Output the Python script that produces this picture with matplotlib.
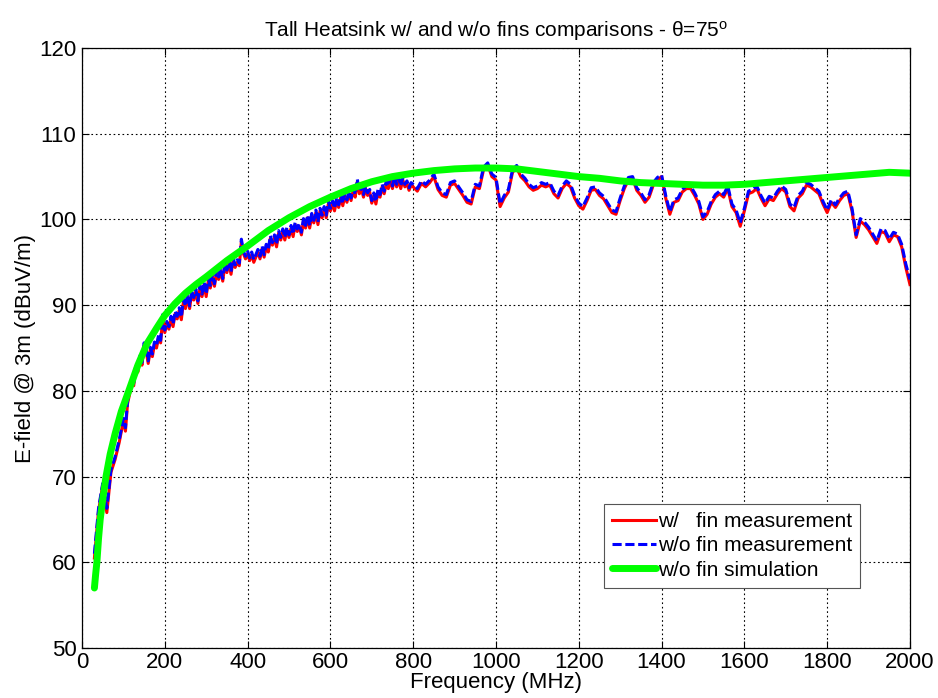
import numpy as np
import matplotlib
matplotlib.use("Agg")
import matplotlib.pyplot as plt

plt.rcParams['font.family'] = ['Liberation Sans', 'DejaVu Sans']
plt.rcParams['mathtext.fontset'] = 'custom'
plt.rcParams['mathtext.rm'] = 'Liberation Sans'
plt.rcParams['mathtext.it'] = 'Liberation Sans:italic'

# Measurement frequencies (MHz): sampling grid
meas_freq = np.concatenate([np.arange(30, 100, 10),
                            np.arange(100, 800, 5),
                            np.arange(800, 2001, 10)])

w_fin_meas = [
    # 30 - 90 MHz
    60.5, 66.0, 69.0, 65.8, 70.5, 72.0, 74.0,
    # 100 - 795 MHz (5 MHz steps)
    76.5, 75.3, 78.5, 79.6, 81.0, 80.6, 82.8, 82.2, 83.8, 83.0,
    85.3, 84.6, 83.2, 84.8, 84.0, 85.4, 85.0, 86.2, 85.6, 88.6,
    86.8, 87.8, 87.2, 88.4, 87.5, 89.0, 88.4, 89.4, 88.3, 90.4,
    89.6, 91.0, 89.6, 91.4, 90.6, 91.6, 90.2, 92.0, 91.0, 92.4,
    91.0, 92.8, 92.0, 93.4, 92.2, 93.8, 93.0, 94.0, 92.8, 94.6,
    93.8, 94.9, 93.6, 95.2, 94.4, 95.0, 94.6, 97.4, 96.0, 95.4,
    96.0, 95.2, 95.9, 95.0, 95.6, 96.2, 95.4, 96.6, 95.6, 96.8,
    96.2, 97.8, 97.0, 97.9, 96.8, 98.4, 97.6, 98.6, 97.6, 98.8,
    97.9, 99.0, 98.0, 99.4, 98.6, 99.2, 98.2, 99.8, 99.0, 100.2,
    99.0, 100.4, 99.6, 100.8, 99.4, 101.0, 100.2, 101.2, 100.2, 101.8,
    101.0, 101.9, 101.0, 102.2, 101.4, 102.6, 101.6, 102.8, 102.0, 103.0,
    102.2, 103.4, 102.6, 104.4, 103.0, 103.6, 102.6, 103.6, 102.8, 103.2,
    101.9, 102.8, 101.8, 103.2, 102.6, 103.8, 103.0, 104.2, 103.6, 104.6,
    103.6, 104.8, 103.8, 104.6, 103.6, 104.6, 103.8, 104.2, 103.4, 104.0,
    # 800 - 2000 MHz (10 MHz steps)
    103.8, 103.3, 104.2,
    103.8, 104.3, 105.0, 103.5, 102.8, 102.6, 104.0, 104.2, 103.5, 102.8,
    102.0, 101.8, 103.8, 103.6, 105.8, 106.4, 105.0, 104.6, 101.5, 102.5,
    103.2, 105.5, 106.0, 105.0, 104.5, 103.8, 103.4, 103.6, 104.0, 103.8,
    104.0, 103.0, 102.5, 103.6, 104.2, 103.8, 102.5, 101.6, 101.2, 102.2,
    103.4, 103.5, 102.8, 102.4, 101.6, 100.8, 100.6, 102.2, 103.6, 104.6,
    104.8, 103.4, 102.8, 102.0, 102.6, 104.0, 104.6, 105.0, 102.5, 100.6,
    102.0, 102.2, 103.2, 103.6, 103.6, 102.8, 101.8, 100.0, 100.6, 101.8,
    102.6, 103.0, 102.6, 103.6, 101.5, 100.8, 99.2, 101.0, 103.0, 103.2,
    103.6, 102.5, 101.6, 102.4, 102.2, 103.0, 103.6, 103.2, 101.5, 101.0,
    102.5, 103.0, 104.0, 103.8, 103.4, 103.0, 101.8, 100.8, 102.0, 101.4,
    102.2, 102.8, 103.0, 101.0, 97.9, 99.8, 99.4, 98.8, 98.0, 97.2,
    98.6, 98.4, 97.4, 98.2, 98.0, 96.8, 94.4, 92.4,
]

wo_fin_meas = [
    # 30 - 90 MHz
    61.0, 66.3, 69.2, 66.3, 70.8, 72.3, 74.3,
    # 100 - 795 MHz (5 MHz steps)
    76.8, 75.7, 78.8, 79.9, 81.3, 80.9, 83.1, 82.5, 84.1, 83.3,
    85.6, 84.9, 83.5, 85.1, 84.3, 85.7, 85.3, 86.5, 85.9, 88.9,
    87.1, 88.1, 87.5, 88.7, 87.8, 89.3, 88.7, 89.7, 88.6, 90.7,
    89.9, 91.3, 89.9, 91.7, 90.9, 91.9, 90.5, 92.3, 91.3, 92.7,
    91.3, 93.1, 92.3, 93.7, 92.5, 94.1, 93.3, 94.3, 93.1, 94.9,
    94.1, 95.2, 93.9, 95.5, 94.7, 95.3, 94.9, 97.7, 96.3, 95.7,
    96.3, 95.5, 96.2, 95.3, 95.9, 96.5, 95.7, 96.9, 95.9, 97.1,
    96.5, 98.1, 97.3, 98.2, 97.1, 98.7, 97.9, 98.9, 97.9, 99.1,
    98.2, 99.3, 98.3, 99.7, 98.9, 99.5, 98.5, 100.1, 99.3, 100.5,
    99.3, 100.7, 99.9, 101.1, 99.7, 101.3, 100.5, 101.5, 100.5, 102.1,
    101.3, 102.2, 101.3, 102.5, 101.7, 102.9, 101.9, 103.1, 102.3, 103.3,
    102.5, 103.7, 102.9, 104.7, 103.3, 103.9, 102.9, 103.9, 103.1, 103.5,
    102.2, 103.1, 102.1, 103.5, 102.9, 104.1, 103.3, 104.5, 103.9, 104.9,
    103.9, 105.1, 104.1, 104.9, 103.9, 104.9, 104.1, 104.5, 103.7, 104.3,
    # 800 - 2000 MHz (10 MHz steps)
    104.1, 103.6, 104.5,
    104.1, 104.6, 105.3, 103.8, 103.1, 102.9, 104.3, 104.5, 103.8, 103.1,
    102.3, 102.1, 104.1, 103.9, 106.1, 106.6, 105.3, 104.9, 101.8, 102.8,
    103.5, 105.8, 106.3, 105.3, 104.8, 104.1, 103.7, 103.9, 104.3, 104.1,
    104.3, 103.3, 102.8, 103.9, 104.5, 104.1, 102.8, 101.9, 101.5, 102.5,
    103.7, 103.8, 103.1, 102.7, 101.9, 101.1, 100.9, 102.5, 103.9, 104.9,
    105.0, 103.7, 103.1, 102.3, 102.9, 104.3, 104.9, 105.2, 102.8, 100.9,
    102.3, 102.5, 103.5, 103.9, 103.9, 103.1, 102.1, 100.3, 100.9, 102.1,
    102.9, 103.3, 102.9, 103.9, 101.8, 101.1, 99.6, 101.3, 103.3, 103.5,
    103.9, 102.8, 101.9, 102.7, 102.5, 103.3, 103.9, 103.5, 101.8, 101.4,
    102.8, 103.3, 104.3, 104.1, 103.7, 103.3, 102.1, 101.1, 102.3, 101.7,
    102.5, 103.1, 103.3, 101.3, 98.2, 100.1, 99.7, 99.1, 98.3, 97.5,
    98.9, 98.7, 97.7, 98.5, 98.3, 97.1, 94.8, 93.0,
]

sim_freq = [30, 33, 36, 40, 44, 50, 58, 68, 80, 95, 113, 135, 157, 180, 200,
            225, 250, 275, 300, 350, 400, 450, 500, 550, 600, 650, 700, 750,
            800, 850, 900, 950, 1000, 1050, 1100, 1150, 1200, 1250, 1300,
            1350, 1400, 1450, 1500, 1550, 1600, 1650, 1700, 1750, 1800, 1850,
            1900, 1950, 2000]
wo_fin_sim = [57.0, 58.6, 60.0, 62.8, 65.0, 67.3, 70.0, 72.6, 75.0, 77.6, 80.0,
              83.0, 85.5, 87.3, 88.8, 90.2, 91.4, 92.4, 93.3, 95.2, 96.9, 98.7,
              100.2, 101.5, 102.6, 103.6, 104.4, 105.0, 105.4, 105.7, 105.9,
              106.0, 106.0, 105.9, 105.6, 105.3, 105.0, 104.8, 104.5, 104.3,
              104.2, 104.1, 104.0, 104.0, 104.1, 104.3, 104.5, 104.7, 104.9,
              105.1, 105.3, 105.5, 105.4]

x_ticks = [0, 200, 400, 600, 800, 1000, 1200, 1400, 1600, 1800, 2000]
y_ticks = [50, 60, 70, 80, 90, 100, 110, 120]

fig = plt.figure(figsize=(9.38, 6.98), dpi=100)
ax = fig.add_axes([0.0874, 0.0716, 0.8827, 0.8596])

ax.plot(meas_freq, w_fin_meas, color='#ff0000', lw=2.2, solid_joinstyle='round',
        label='w/   fin measurement')
ax.plot(meas_freq, wo_fin_meas, color='#0000ff', lw=2.2, ls=(0, (3, 1.2)),
        label='w/o fin measurement')
ax.plot(sim_freq, wo_fin_sim, color='#00ff00', lw=5.0, solid_capstyle='round',
        label='w/o fin simulation')

ax.set_xlim(0, 2000)
ax.set_ylim(50, 120)
ax.set_xticks(x_ticks)
ax.set_yticks(y_ticks)
ax.grid(True, color='black', linestyle=(0, (1.5, 2.5)), linewidth=0.8)
ax.tick_params(axis='both', direction='in', top=True, right=True, labelsize=16, length=5)
ax.tick_params(axis='x', pad=3)
ax.tick_params(axis='y', pad=4)
for s in ax.spines.values():
    s.set_linewidth(0.9)

ax.set_xlabel('Frequency (MHz)', fontsize=16, labelpad=-1)
ax.set_ylabel('E-field @ 3m (dBuV/m)', fontsize=16, labelpad=2)
ax.set_title('Tall Heatsink w/ and w/o fins comparisons - θ=75$^{\\rm o}$',
             fontsize=15, pad=8)

leg = ax.legend(loc='lower right', bbox_to_anchor=(0.94, 0.1), fontsize=15,
                handlelength=2.1, handletextpad=0.1, borderpad=0.4,
                labelspacing=0.25, fancybox=False, framealpha=1,
                edgecolor='#555555', borderaxespad=0)
leg.get_frame().set_linewidth(0.8)

fig.savefig('out.png', dpi=100, facecolor='white')
